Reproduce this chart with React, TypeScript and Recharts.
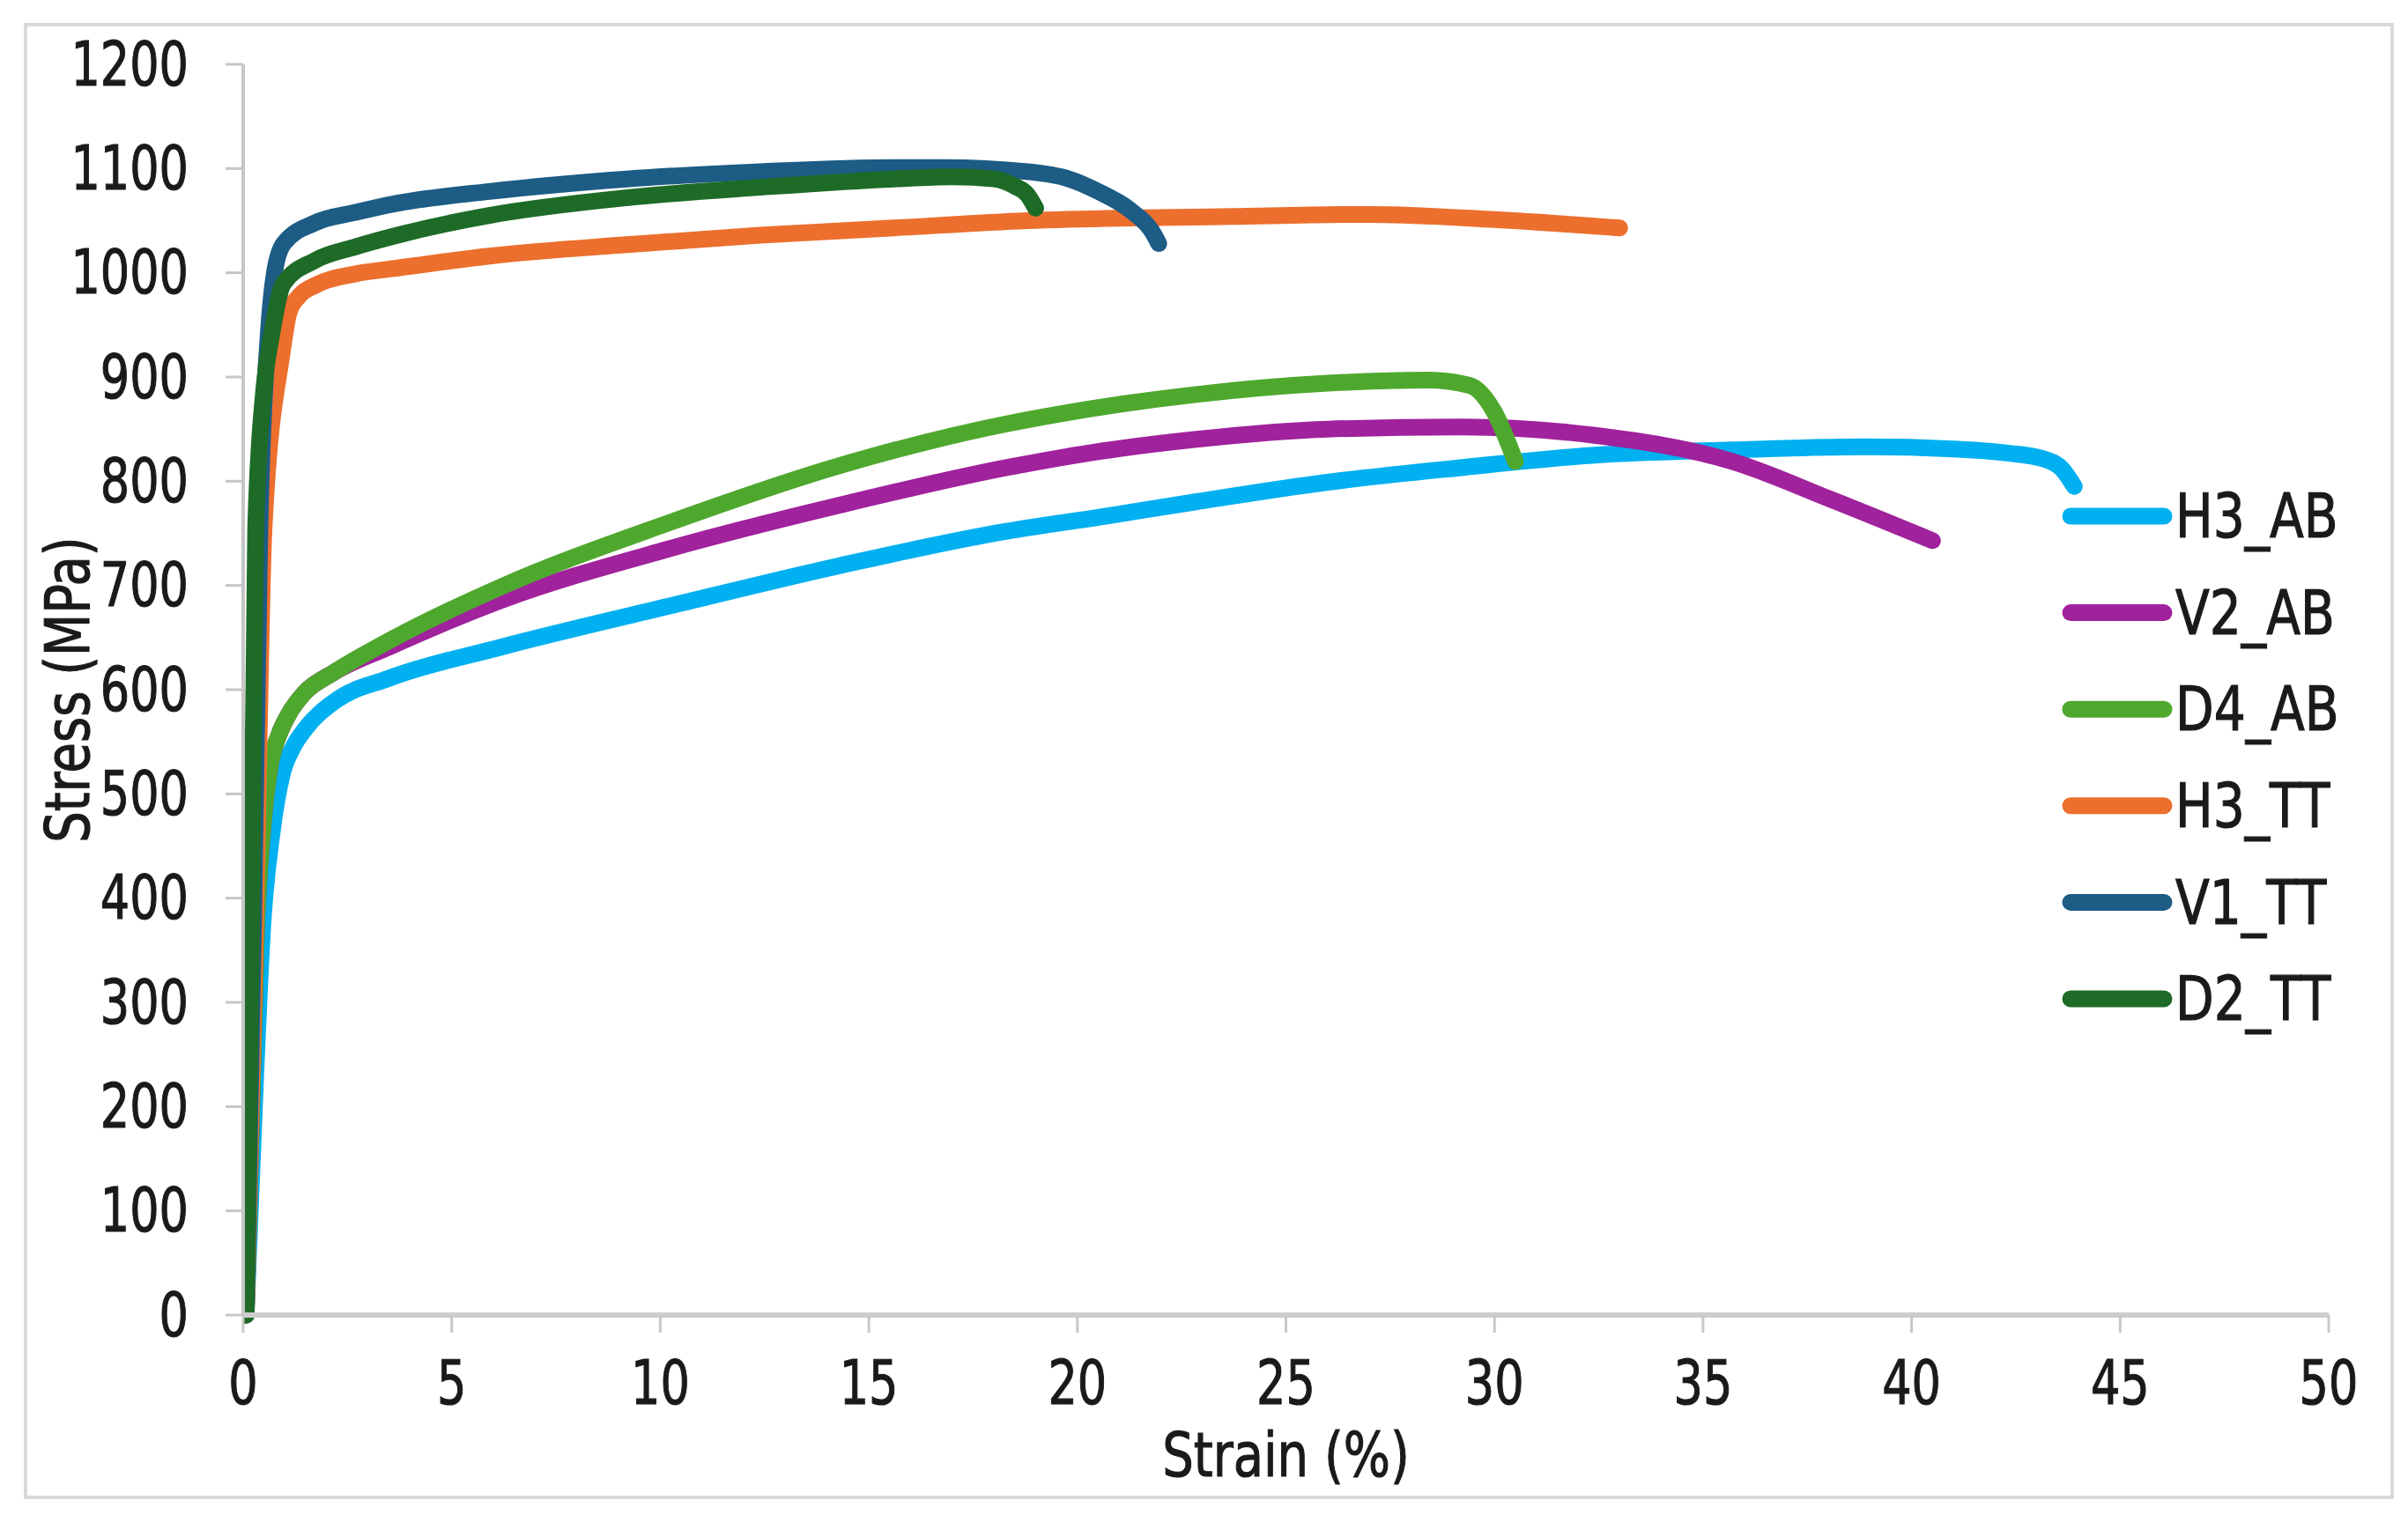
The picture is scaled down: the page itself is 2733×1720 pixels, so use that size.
import { LineChart, Line, XAxis, YAxis, Legend, Label } from "recharts";

const FONT = '"DejaVu Sans", Verdana, sans-serif';
const INK = "#1a1a1a";
const SIZE = 70;

const seriesNames = ["H3_AB", "V2_AB", "D4_AB", "H3_TT", "V1_TT", "D2_TT"];
const seriesColors = ["#00b0f0", "#a0229c", "#4fa82e", "#ec6f2e", "#1c5c85", "#1d6b27"];

const xTicks = [0, 5, 10, 15, 20, 25, 30, 35, 40, 45, 50];
const yTicks = [0, 100, 200, 300, 400, 500, 600, 700, 800, 900, 1000, 1100, 1200];

// strain (%) / stress (MPa)
const h3abStrain = [0.07, 0.3, 0.47, 0.7, 0.93, 1.2, 1.5, 2.2, 3.5, 6.2, 10.2, 14.3, 18.3, 20.6, 22.8, 26.0, 29.2, 32.4, 35.7, 38.9, 41.0, 42.3, 43.2, 43.6, 43.9];
const h3abStress = [0, 230, 374, 465, 518, 545, 563, 589, 611, 641, 680, 719, 752, 766, 780, 799, 813, 825, 830, 833, 831, 827, 821, 812, 795];

const v2abStrain = [0.07, 0.32, 0.5, 0.66, 0.85, 1.1, 1.47, 2.15, 3.5, 6.2, 10.2, 14.3, 18.3, 20.6, 22.8, 26.0, 29.2, 32.4, 35.7, 38.1, 40.5];
const v2abStress = [0, 374, 480, 530, 556, 577, 597, 616, 641, 686, 735, 777, 813, 829, 840, 850, 852, 844, 819, 782, 743];

const d4abStrain = [0.07, 0.32, 0.5, 0.66, 0.85, 1.1, 1.47, 2.15, 3.5, 6.2, 10.2, 14.3, 18.3, 19.5, 22.8, 26.0, 28.4, 29.4, 30.0, 30.5];
const d4abStress = [0, 374, 480, 530, 556, 577, 597, 616, 647, 699, 760, 815, 855, 864, 883, 894, 897, 892, 866, 819];

const h3ttStrain = [0.07, 0.3, 0.5, 0.93, 1.1, 1.35, 1.73, 2.7, 3.6, 5.9, 9.2, 12.4, 15.6, 18.8, 23.7, 27.0, 30.0, 33.0];
const h3ttStress = [0, 380, 755, 922, 962, 978, 988, 999, 1004, 1016, 1027, 1036, 1043, 1050, 1054, 1056, 1051, 1043];

const v1ttStrain = [0.07, 0.25, 0.4, 0.6, 0.75, 0.97, 1.73, 2.7, 3.6, 5.9, 9.2, 12.4, 15.6, 16.8, 18.8, 19.8, 20.5, 21.3, 21.8, 21.95];
const v1ttStress = [0, 380, 755, 940, 1000, 1028, 1048, 1058, 1066, 1078, 1090, 1097, 1101, 1101, 1097, 1090, 1078, 1059, 1039, 1028];

const d2ttStrain = [0.07, 0.2, 0.3, 0.5, 0.68, 0.97, 1.73, 2.7, 3.6, 5.9, 9.2, 12.4, 15.6, 17.0, 18.0, 18.5, 18.8, 19.0];
const d2ttStress = [0, 380, 755, 890, 940, 990, 1012, 1025, 1035, 1055, 1072, 1082, 1090, 1092, 1090, 1083, 1075, 1062];

const strainSets = [h3abStrain, v2abStrain, d4abStrain, h3ttStrain, v1ttStrain, d2ttStrain];
const stressSets = [h3abStress, v2abStress, d4abStress, h3ttStress, v1ttStress, d2ttStress];

const toPoints = (xs: number[], ys: number[]) => xs.map((x, i) => ({ x, y: ys[i] }));

// narrow, slightly heavy text, close to the original's font
function Txt({ x, y, squeeze, anchor = "start", rotate = 0, children }: any) {
  return (
    <g transform={`translate(${x},${y}) rotate(${rotate}) scale(${squeeze},1)`}>
      <text
        textAnchor={anchor}
        dominantBaseline="central"
        fontFamily={FONT}
        fontSize={SIZE}
        fill={INK}
        stroke={INK}
        strokeWidth={1.2}
      >
        {children}
      </text>
    </g>
  );
}

function YTick({ x, y, payload }: any) {
  return (
    <Txt x={x} y={y} squeeze={0.75} anchor="end">
      {payload.value}
    </Txt>
  );
}

function XTick({ x, y, payload }: any) {
  return (
    <Txt x={x} y={y} squeeze={0.75} anchor="middle">
      {payload.value}
    </Txt>
  );
}

function XTitle({ viewBox }: any) {
  return (
    <Txt x={viewBox.x + viewBox.width / 2} y={viewBox.y + 159} squeeze={0.8} anchor="middle">
      Strain (%)
    </Txt>
  );
}

function YTitle({ viewBox }: any) {
  return (
    <Txt x={viewBox.x + 41} y={viewBox.y + viewBox.height / 2} squeeze={0.8} anchor="middle" rotate={-90}>
      Stress (MPa)
    </Txt>
  );
}

// keep the series order of the original legend
function LegendContent() {
  return (
    <svg width={420} height={680}>
      {seriesNames.map((name, i) => {
        const cy = 56 + i * 109.6;
        return (
          <g key={name}>
            <line x1={20} x2={126} y1={cy} y2={cy} stroke={seriesColors[i]} strokeWidth={19} strokeLinecap="round" />
            <Txt x={139} y={cy} squeeze={0.81}>
              {name}
            </Txt>
          </g>
        );
      })}
    </svg>
  );
}

export default function App() {
  return (
    <div style={{ position: "absolute", left: 0, top: 0, width: 2733, height: 1720, background: "#fff" }}>
      <div
        style={{
          position: "absolute",
          left: 27,
          top: 26,
          width: 2690,
          height: 1676,
          border: "4px solid #d9d9d9",
          boxSizing: "border-box",
        }}
      />
      <LineChart width={2733} height={1720} margin={{ top: 73, right: 90, bottom: 47, left: 36 }}>
        <XAxis
          type="number"
          dataKey="x"
          domain={[0, 50]}
          ticks={xTicks}
          allowDataOverflow
          height={180}
          tickSize={20}
          tickMargin={57}
          tick={<XTick />}
          axisLine={{ stroke: "#cdcdcd", strokeWidth: 6 }}
          tickLine={{ stroke: "#c8c8c8", strokeWidth: 3 }}
        >
          <Label content={<XTitle />} />
        </XAxis>
        <YAxis
          type="number"
          dataKey="y"
          domain={[0, 1200]}
          ticks={yTicks}
          width={240}
          tickSize={20}
          tickMargin={42}
          tick={<YTick />}
          axisLine={{ stroke: "#c6c6c6", strokeWidth: 4 }}
          tickLine={{ stroke: "#c6c6c6", strokeWidth: 3 }}
        >
          <Label content={<YTitle />} />
        </YAxis>
        <Legend
          layout="vertical"
          align="center"
          verticalAlign="middle"
          content={<LegendContent />}
          wrapperStyle={{ left: 2330, top: 530, width: 420, height: 680 }}
        />
        {seriesNames.map((name, i) => (
          <Line
            key={name}
            name={name}
            data={toPoints(strainSets[i], stressSets[i])}
            dataKey="y"
            type="monotone"
            stroke={seriesColors[i]}
            strokeWidth={19}
            strokeLinecap="round"
            strokeLinejoin="round"
            dot={false}
            activeDot={false}
            isAnimationActive={false}
          />
        ))}
      </LineChart>
    </div>
  );
}
